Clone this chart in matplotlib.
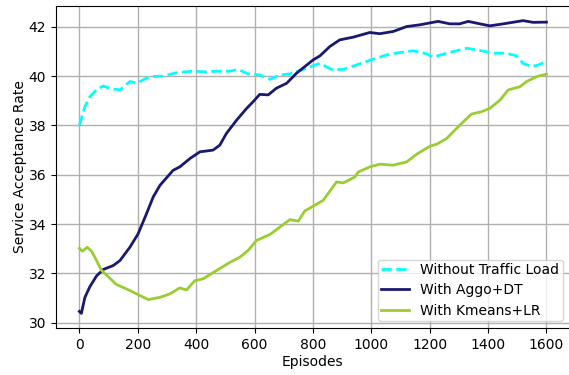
import numpy as np
import matplotlib
matplotlib.use("Agg")
import matplotlib.pyplot as plt

# Without Traffic Load
ep_no_load = [0, 19, 36, 64, 82, 104, 139, 173, 196, 241, 287, 333, 390, 436, 470, 516, 544,
              578, 618, 653, 687, 721, 767, 824, 864, 904, 961, 1007, 1064, 1144, 1190, 1212,
              1258, 1327, 1372, 1418, 1463, 1498, 1520, 1549, 1572, 1600]
sar_no_load = [38.0, 38.76, 39.17, 39.5, 39.6, 39.5, 39.44, 39.78, 39.72, 39.98, 40.0, 40.14,
               40.2, 40.17, 40.2, 40.2, 40.27, 40.09, 40.05, 39.87, 40.05, 40.09, 40.27, 40.52,
               40.27, 40.27, 40.5, 40.69, 40.9, 41.03, 40.9, 40.77, 40.93, 41.13, 41.04, 40.93,
               40.93, 40.82, 40.52, 40.39, 40.45, 40.59]

# With Aggo+DT
ep_aggo = [0, 7, 19, 36, 59, 82, 116, 139, 173, 201, 230, 253, 276, 321, 344, 379, 413, 458,
           481, 504, 539, 573, 595, 618, 647, 675, 710, 744, 801, 824, 858, 892, 938, 995,
           1029, 1075, 1121, 1166, 1229, 1269, 1303, 1332, 1372, 1406, 1452, 1520, 1555, 1600]
sar_aggo = [30.46, 30.38, 31.03, 31.46, 31.9, 32.16, 32.32, 32.52, 33.06, 33.6, 34.42, 35.1,
            35.57, 36.18, 36.32, 36.66, 36.93, 37.0, 37.2, 37.68, 38.22, 38.69, 38.96, 39.26,
            39.24, 39.51, 39.71, 40.12, 40.66, 40.82, 41.2, 41.47, 41.58, 41.77, 41.72, 41.81,
            42.01, 42.08, 42.22, 42.12, 42.12, 42.22, 42.12, 42.04, 42.12, 42.25, 42.18, 42.19]

# With Kmeans+LR
ep_kmeans = [0, 10, 27, 42, 59, 76, 99, 127, 162, 196, 236, 276, 310, 344, 367, 396, 424, 470,
             516, 550, 578, 607, 653, 687, 721, 750, 772, 835, 881, 904, 944, 955, 995, 1029,
             1075, 1121, 1155, 1201, 1224, 1258, 1303, 1343, 1378, 1406, 1441, 1469, 1509,
             1532, 1566, 1600]
sar_kmeans = [33.02, 32.9, 33.06, 32.9, 32.52, 32.12, 31.87, 31.55, 31.37, 31.17, 30.94, 31.03,
              31.17, 31.41, 31.33, 31.71, 31.78, 32.12, 32.45, 32.66, 32.93, 33.34, 33.58,
              33.88, 34.18, 34.12, 34.53, 34.96, 35.71, 35.67, 35.91, 36.11, 36.32, 36.43,
              36.39, 36.52, 36.83, 37.16, 37.24, 37.47, 38.01, 38.46, 38.56, 38.69, 39.03,
              39.44, 39.57, 39.78, 39.98, 40.08]

fig = plt.figure(figsize=(5.69, 3.75), dpi=100)
ax = fig.add_axes([0.0984, 0.1253, 0.9030, 0.8587])

ax.plot(ep_no_load, sar_no_load, color='cyan', linestyle='--', linewidth=2,
        label='Without Traffic Load')
ax.plot(ep_aggo, sar_aggo, color='midnightblue', linewidth=2, label='With Aggo+DT')
ax.plot(ep_kmeans, sar_kmeans, color='yellowgreen', linewidth=2, label='With Kmeans+LR')

ax.set_xticks(np.arange(0, 1601, 200))
ax.set_yticks(np.arange(30, 43, 2))
ax.tick_params(labelsize=10)
ax.grid(True, color='#b0b0b0', linewidth=1)
ax.set_xlabel('Episodes', fontsize=10, labelpad=2)
ax.set_ylabel('Service Acceptance Rate', fontsize=10, labelpad=1.5)
ax.legend(loc='lower right', fontsize=10, borderpad=0.25, labelspacing=0.45,
          borderaxespad=0.5)

fig.savefig('out.png', dpi=100)
